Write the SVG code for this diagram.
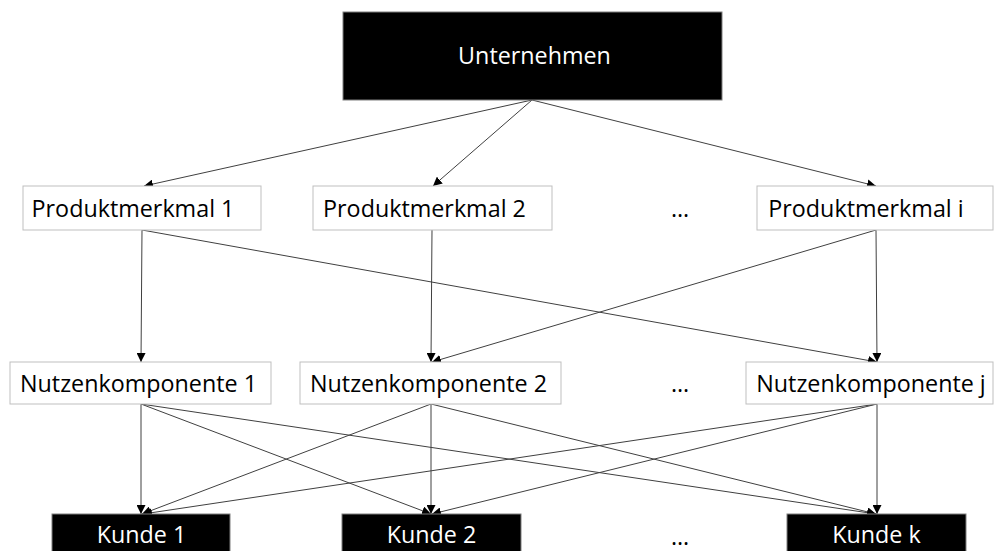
<svg xmlns="http://www.w3.org/2000/svg" width="995" height="551" viewBox="0 0 995 551">
  <style>
    .lbl { font-family: "Open Sans", "Noto Sans", "Liberation Sans", sans-serif; font-size: 23.3px; }
    .dark rect { fill: #000; stroke: #7f7f7f; stroke-width: 1; }
    .dark text { fill: #fff; }
    .light rect { fill: #fff; stroke: #bfbfbf; stroke-width: 1; }
    .light text { fill: #000; }
    .dots { fill: #000; }
    #connectors line { stroke: #404040; stroke-width: 1; marker-end: url(#arrow); }
  </style>
  <defs>
    <marker id="arrow" viewBox="0 0 10 10" refX="10" refY="5" markerWidth="9" markerHeight="9" markerUnits="userSpaceOnUse" orient="auto">
      <path d="M0,0 L10,5 L0,10 z" fill="#000"/>
    </marker>
  </defs>
  <rect width="995" height="551" fill="#fff"/>

  <!-- connectors -->
  <g id="connectors">
    <!-- company to product features -->
    <line x1="532" y1="100" x2="144" y2="186"/>
    <line x1="532" y1="100" x2="433" y2="186"/>
    <line x1="532" y1="100" x2="876" y2="186"/>
    <!-- product features to benefit components -->
    <line x1="142" y1="230" x2="141" y2="362"/>
    <line x1="142" y1="230" x2="877" y2="362"/>
    <line x1="432" y1="230" x2="431" y2="362"/>
    <line x1="876" y1="230" x2="432" y2="362"/>
    <line x1="876" y1="230" x2="877" y2="362"/>
    <!-- benefit components to customers -->
    <line x1="141" y1="404" x2="141" y2="514"/>
    <line x1="141" y1="404" x2="431" y2="514"/>
    <line x1="141" y1="404" x2="876" y2="514"/>
    <line x1="431" y1="404" x2="142" y2="514"/>
    <line x1="431" y1="404" x2="431" y2="514"/>
    <line x1="431" y1="404" x2="876" y2="514"/>
    <line x1="877" y1="404" x2="143" y2="514"/>
    <line x1="877" y1="404" x2="432" y2="514"/>
    <line x1="877" y1="404" x2="877" y2="514"/>
  </g>

  <g id="unternehmen" class="dark">
    <rect x="343" y="12" width="379" height="88"/>
    <text class="lbl" x="534.5" y="64" text-anchor="middle">Unternehmen</text>
  </g>

  <g id="produktmerkmal-1" class="light">
    <rect x="23" y="186" width="238" height="44"/>
    <text class="lbl" x="133" y="217" text-anchor="middle">Produktmerkmal 1</text>
  </g>
  <g id="produktmerkmal-2" class="light">
    <rect x="313" y="186" width="239" height="44"/>
    <text class="lbl" x="424.5" y="217" text-anchor="middle">Produktmerkmal 2</text>
  </g>
  <g id="produktmerkmal-i" class="light">
    <rect x="757" y="186" width="236" height="44"/>
    <text class="lbl" x="866" y="217" text-anchor="middle">Produktmerkmal i</text>
  </g>
  <text class="lbl dots" x="680" y="217" text-anchor="middle">…</text>

  <g id="nutzenkomponente-1" class="light">
    <rect x="10" y="362" width="261" height="42"/>
    <text class="lbl" x="138.5" y="392" text-anchor="middle">Nutzenkomponente 1</text>
  </g>
  <g id="nutzenkomponente-2" class="light">
    <rect x="300" y="362" width="261" height="42"/>
    <text class="lbl" x="428.5" y="392" text-anchor="middle">Nutzenkomponente 2</text>
  </g>
  <g id="nutzenkomponente-j" class="light">
    <rect x="746" y="362" width="247" height="42"/>
    <text class="lbl" x="871" y="392" text-anchor="middle">Nutzenkomponente j</text>
  </g>
  <text class="lbl dots" x="680" y="392" text-anchor="middle">…</text>

  <g id="kunde-1" class="dark">
    <rect x="52" y="514" width="178" height="45"/>
    <text class="lbl" x="141.5" y="543" text-anchor="middle">Kunde 1</text>
  </g>
  <g id="kunde-2" class="dark">
    <rect x="342" y="514" width="179" height="45"/>
    <text class="lbl" x="431.5" y="543" text-anchor="middle">Kunde 2</text>
  </g>
  <g id="kunde-k" class="dark">
    <rect x="787" y="514" width="179" height="45"/>
    <text class="lbl" x="876.5" y="543" text-anchor="middle">Kunde k</text>
  </g>
  <text class="lbl dots" x="680" y="545" text-anchor="middle">…</text>
</svg>
